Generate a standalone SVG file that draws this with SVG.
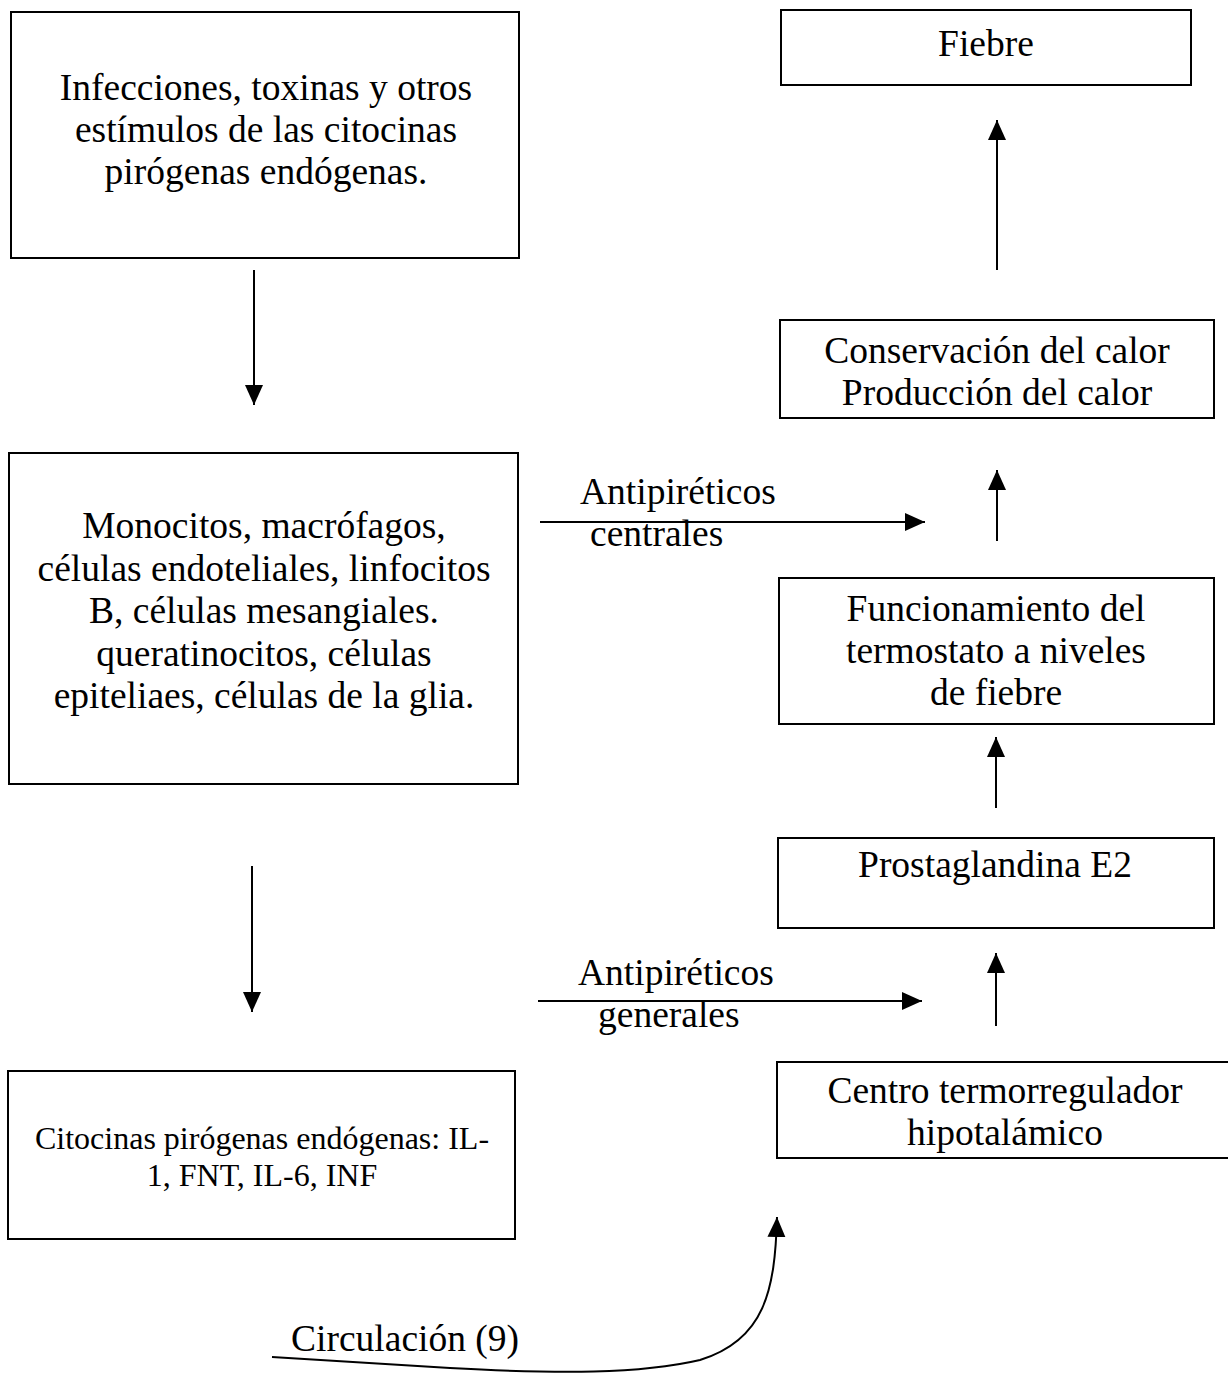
<svg xmlns="http://www.w3.org/2000/svg" width="1228" height="1374" viewBox="0 0 1228 1374">
<style>
.box{fill:#fff;stroke:#000;stroke-width:2}
.t{font-family:"Liberation Serif","Times New Roman",serif;font-size:37.5px;fill:#000;text-anchor:middle}
.s{font-family:"Liberation Serif","Times New Roman",serif;font-size:32px;fill:#000;text-anchor:middle}
.l{font-family:"Liberation Serif","Times New Roman",serif;font-size:37.5px;fill:#000}
.c{fill:none;stroke:#000;stroke-width:2}
</style>
<defs>
<marker id="ah" markerWidth="22" markerHeight="20" refX="20" refY="9" orient="auto" markerUnits="userSpaceOnUse">
<path d="M0,0 L20,9 L0,18 Z" fill="#000"/>
</marker>
</defs>
<rect width="1228" height="1374" fill="#fff"/>
<g id="n1">
<rect class="box" x="11" y="12" width="508" height="246"/>
<text class="t" x="266" y="100">Infecciones, toxinas y otros</text>
<text class="t" x="266" y="142">estímulos de las citocinas</text>
<text class="t" x="266" y="184">pirógenas endógenas.</text>
</g>
<g id="n2">
<rect class="box" x="9" y="453" width="509" height="331"/>
<text class="t" x="264" y="538">Monocitos, macrófagos,</text>
<text class="t" x="264" y="581">células endoteliales, linfocitos</text>
<text class="t" x="264" y="623">B, células mesangiales.</text>
<text class="t" x="264" y="666">queratinocitos, células</text>
<text class="t" x="264" y="708">epiteliaes, células de la glia.</text>
</g>
<g id="n3">
<rect class="box" x="8" y="1071" width="507" height="168"/>
<text class="s" x="262" y="1149">Citocinas pirógenas endógenas: IL-</text>
<text class="s" x="262" y="1186">1, FNT, IL-6, INF</text>
</g>
<g id="n4">
<rect class="box" x="781" y="10" width="410" height="75"/>
<text class="t" x="986" y="56">Fiebre</text>
</g>
<g id="n5">
<rect class="box" x="780" y="320" width="434" height="98"/>
<text class="t" x="997" y="363">Conservación del calor</text>
<text class="t" x="997" y="405">Producción del calor</text>
</g>
<g id="n6">
<rect class="box" x="779" y="578" width="435" height="146"/>
<text class="t" x="996" y="621">Funcionamiento del</text>
<text class="t" x="996" y="663">termostato a niveles</text>
<text class="t" x="996" y="705">de fiebre</text>
</g>
<g id="n7">
<rect class="box" x="778" y="838" width="436" height="90"/>
<text class="t" x="995" y="877">Prostaglandina E2</text>
</g>
<g id="n8">
<path class="box" d="M1230,1062 L777,1062 L777,1158 L1230,1158" />
<text class="t" x="1005" y="1103">Centro termorregulador</text>
<text class="t" x="1005" y="1145">hipotalámico</text>
</g>
<g id="connectors">
<line class="c" x1="254" y1="270" x2="254" y2="405" marker-end="url(#ah)"/>
<line class="c" x1="252" y1="866" x2="252" y2="1012" marker-end="url(#ah)"/>
<line class="c" x1="997" y1="270" x2="997" y2="120" marker-end="url(#ah)"/>
<line class="c" x1="997" y1="541" x2="997" y2="470" marker-end="url(#ah)"/>
<line class="c" x1="996" y1="808" x2="996" y2="737" marker-end="url(#ah)"/>
<line class="c" x1="996" y1="1026" x2="996" y2="953" marker-end="url(#ah)"/>
<line class="c" x1="540" y1="522" x2="925" y2="522" marker-end="url(#ah)"/>
<line class="c" x1="538" y1="1001" x2="922" y2="1001" marker-end="url(#ah)"/>
<path class="c" d="M272,1357 L450,1368 C560,1374 640,1374 700,1360 C765,1340 775,1290 777,1217" marker-end="url(#ah)"/>
<text class="l" x="580" y="504">Antipiréticos</text>
<text class="l" x="590" y="546">centrales</text>
<text class="l" x="578" y="985">Antipiréticos</text>
<text class="l" x="598" y="1027">generales</text>
<text class="l" x="291" y="1351">Circulación (9)</text>
</g>
</svg>
